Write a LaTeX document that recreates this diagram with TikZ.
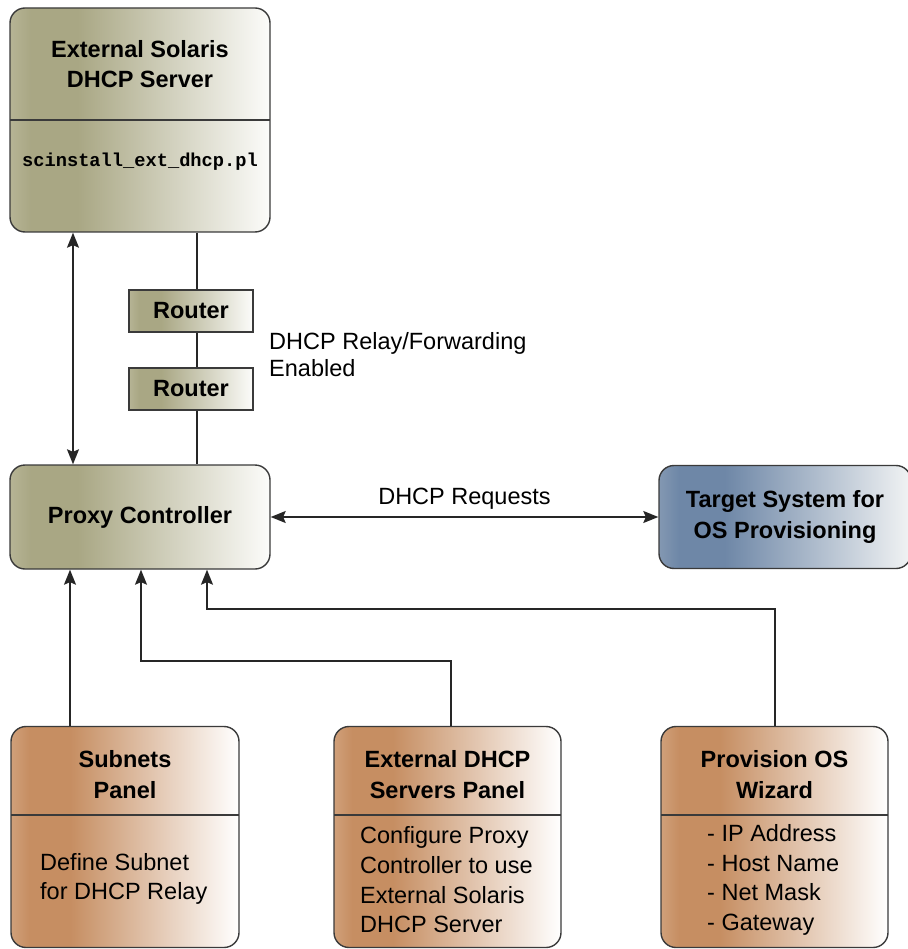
\documentclass[tikz,border=0pt]{standalone}
\usepackage{fontspec}
\setmainfont{Liberation Sans}
\setmonofont{Liberation Mono}
\usetikzlibrary{arrows.meta}

\definecolor{edge}{HTML}{3A3A3A}
\definecolor{olivelt}{HTML}{B6B495}
\definecolor{olivedk}{HTML}{A9A784}
\definecolor{bluelt}{HTML}{8398B2}
\definecolor{bluedk}{HTML}{6E87A7}
\definecolor{brownlt}{HTML}{D0A07A}
\definecolor{browndk}{HTML}{C68E62}
\definecolor{fadeend}{HTML}{FCFCFA}

\pgfdeclarehorizontalshading{oliveshade}{100bp}{color(0bp)=(olivelt); color(25bp)=(olivelt);
  color(29bp)=(olivedk); color(38bp)=(olivedk); color(75bp)=(fadeend); color(100bp)=(fadeend)}
\pgfdeclarehorizontalshading{blueshade}{100bp}{color(0bp)=(bluelt); color(25bp)=(bluelt);
  color(29bp)=(bluedk); color(38bp)=(bluedk); color(78bp)=(fadeend); color(100bp)=(fadeend)}
\pgfdeclarehorizontalshading{brownshade}{100bp}{color(0bp)=(brownlt); color(25bp)=(brownlt);
  color(29bp)=(browndk); color(38bp)=(browndk); color(75bp)=(white); color(100bp)=(white)}

\tikzset{
  box/.style={draw=edge, line width=1.4pt, rounded corners=15pt, inner sep=0pt},
  routerbox/.style={draw=edge, line width=1.4pt, shading=oliveshade, inner sep=0pt,
    minimum width=124, minimum height=42, font=\titlefont},
  title/.style={align=center, inner sep=0pt, font=\titlefont},
  body/.style={align=left, inner sep=0pt, font=\bodyfont},
  link/.style={draw=black!85, line width=1.4pt},
  arr/.style={link, -{Stealth[length=15pt,width=12pt,inset=2.5pt]}},
  dblarr/.style={link, {Stealth[length=15pt,width=12pt,inset=2.5pt]}-{Stealth[length=15pt,width=12pt,inset=2.5pt]}}
}
\newcommand{\titlefont}{\fontsize{23.5}{30.5}\selectfont\bfseries}
\newcommand{\bodyfont}{\fontsize{23.5}{29.7}\selectfont}

\begin{document}
\begin{tikzpicture}[x=1pt,y=-1pt]
\useasboundingbox (0,0) rectangle (907,949);

% server on top
\node[box, shading=oliveshade, minimum width=260, minimum height=224] (ext) at (140,120) {};
\draw[draw=edge, line width=1.4pt] (10,120) -- (270,120);
\node[title] (extT) at (140,64) {External Solaris\\DHCP Server};
\node[inner sep=0pt, font=\fontsize{18.7}{22}\selectfont\ttfamily\bfseries] (extC) at (140,162) {scinstall\_ext\_dhcp.pl};

% relay path
\node[routerbox] (r1) at (191,311) {Router};
\node[routerbox] (r2) at (191,389) {Router};
\node[body, anchor=west, font=\fontsize{23.5}{27}\selectfont] (relay) at (269,354.5) {DHCP Relay/Forwarding\\Enabled};

% middle row
\node[box, shading=oliveshade, minimum width=260, minimum height=104, font=\titlefont] (proxy) at (140,517) {Proxy Controller};
\node[box, shading=blueshade, minimum width=252, minimum height=103, title] (target) at (785,517) {Target System for\\OS Provisioning};

% panels
\node[box, shading=brownshade, minimum width=228, minimum height=221] (subnets) at (125,837) {};
\node[box, shading=brownshade, minimum width=227, minimum height=221] (dhcp) at (447.5,837) {};
\node[box, shading=brownshade, minimum width=227, minimum height=221] (wizard) at (774.5,837) {};
\draw[draw=edge, line width=1.4pt] (11,815) -- (239,815);
\draw[draw=edge, line width=1.4pt] (334,815) -- (561,815);
\draw[draw=edge, line width=1.4pt] (661,815) -- (888,815);
\node[title] (subnetsT) at (125,774.5) {Subnets\\Panel};
\node[title] (dhcpT) at (447.5,774.5) {External DHCP\\Servers Panel};
\node[title] (wizardT) at (774.5,774.5) {Provision OS\\Wizard};
\node[body, anchor=west] (subnetsB) at (40,879) {Define Subnet\\for DHCP Relay};
\node[body, anchor=west] (dhcpB) at (360,880) {Configure Proxy\\Controller to use\\External Solaris\\DHCP Server};
\node[body, anchor=west] (wizardB) at (707,880) {- IP Address\\- Host Name\\- Net Mask\\- Gateway};

% connectors
\coordinate (tapL) at (73,0);
\coordinate (tapR) at (197,0);
\coordinate (inA) at (70,0);
\coordinate (bendB) at (141,661);
\coordinate (bendC) at (207,609);
\coordinate (dropB) at (451,0);
\coordinate (dropC) at (775,0);
\draw[dblarr] (ext.south -| tapL) -- (proxy.north -| tapL);
\draw[link] (ext.south -| tapR) -- (r1.north -| tapR);
\draw[link] (r1.south -| tapR) -- (r2.north -| tapR);
\draw[link] (r2.south -| tapR) -- (proxy.north -| tapR);
\draw[dblarr] (proxy) -- (target) node[midway, above=7pt, inner sep=0pt, font=\bodyfont] (req) {DHCP Requests};
\draw[arr] (subnets.north -| inA) -- (proxy.south -| inA);
\draw[arr] (dhcp.north -| dropB) |- (bendB) -- (proxy.south -| bendB);
\draw[arr] (wizard.north -| dropC) |- (bendC) -- (proxy.south -| bendC);
\end{tikzpicture}
\end{document}
